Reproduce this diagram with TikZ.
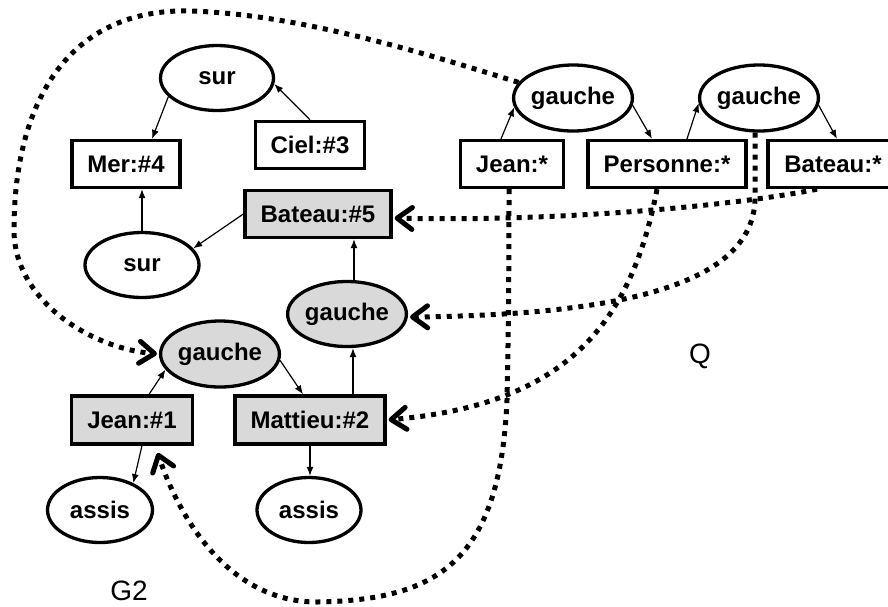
\documentclass[tikz,border=0pt]{standalone}
\usepackage{fontspec}
\setmainfont{Liberation Sans}
\usetikzlibrary{arrows.meta,shapes.geometric}
\tikzset{
  lbl/.style={font=\bfseries\fontsize{24}{28}\selectfont, inner sep=0pt, line width=3.3pt, draw=black},
  relnode/.style={lbl, ellipse, minimum width=113pt, minimum height=65pt},
  conbox/.style={lbl, rectangle, minimum height=47pt},
  hit/.style={fill=gray!30},
  thin/.style={line width=1.2pt, -{Latex[length=9pt,width=7pt]}},
  proj/.style={line width=5pt, dash pattern=on 5pt off 6pt,
    -{Straight Barb[length=15pt,width=22pt,line width=5pt,round]}, shorten >=2pt},
  tag/.style={font=\fontsize{28}{32}\selectfont, inner sep=0pt}
}
\begin{document}
\begin{tikzpicture}[x=1pt,y=-1pt]
\useasboundingbox (0,0) rectangle (888,606);
% G2
\node[relnode] (s1) at (217,78) {sur};
\node[conbox, minimum width=108pt] (mer) at (126,164) {Mer:\#4};
\node[conbox, minimum width=109pt] (ciel) at (310,145) {Ciel:\#3};
\node[conbox, hit, minimum width=146pt] (b5) at (318,214) {Bateau:\#5};
\node[relnode, minimum width=114pt] (s2) at (142,265) {sur};
\node[relnode, hit, minimum width=114pt] (gm) at (347,314) {gauche};
\node[relnode, hit, minimum height=66pt] (gl) at (220,354) {gauche};
\node[conbox, hit, minimum width=121pt, minimum height=48pt] (j1) at (132,420) {Jean:\#1};
\node[conbox, hit, minimum width=150pt, minimum height=48pt] (m2) at (310,420) {Mattieu:\#2};
\node[relnode, minimum width=105pt] (a1) at (100,510) {assis};
\node[relnode, minimum width=104pt] (a2) at (309,510) {assis};
\node[tag] (g2) at (129,591) {G2};
% Q
\node[relnode, minimum height=66pt] (gq1) at (573,98) {gauche};
\node[relnode, minimum height=66pt] (gq2) at (759,98) {gauche};
\node[conbox, minimum width=103pt] (jq) at (512,164) {Jean:*};
\node[conbox, minimum width=158pt] (pq) at (667,164) {Personne:*};
\node[conbox, minimum width=130pt] (bq) at (833,164) {Bateau:*};
\node[tag] (q) at (700,356) {Q};
\coordinate (j1tip) at (157,451);
% thin arrows G2
\draw[thin] (s1.201) -- ([xshift=26pt]mer.north);
\draw[thin] (ciel.north) -- (s1.354);
\draw[thin] (s2.north) -- (s2.north |- mer.south);
\draw[thin] (b5.west) -- (s2.18);
\draw[thin] ([xshift=7pt]gm.north) -- ([xshift=7pt]gm.north |- b5.south);
\draw[thin] ([xshift=43pt]m2.north) -- ([xshift=43pt]m2.north |- gm.south);
\draw[thin] ([xshift=17pt]j1.north) -- (gl.196);
\draw[thin] (gl.354) -- ([xshift=-7pt]m2.north);
\draw[thin] ([xshift=10pt]j1.south) -- (a1.39);
\draw[thin] (m2.south) -- (m2.south |- a2.north);
% thin arrows Q
\draw[thin] ([xshift=-11pt]jq.north) -- (gq1.189);
\draw[thin] (gq1.353) -- ([xshift=-15pt]pq.north);
\draw[thin] ([xshift=20pt]pq.north) -- (gq2.185);
\draw[thin] (gq2.353) -- ([xshift=4pt]bq.north);
% projection
\draw[proj] (gq1.164) .. controls (430,55) and (300,14) .. (190,11)
  .. controls (70,8) and (14,100) .. (14,230)
  .. controls (14,300) and (90,348) .. (gl.west);
\draw[proj] ([xshift=-16pt]bq.south) .. controls (740,205) and (560,222) .. ([yshift=-4pt]b5.east);
\draw[proj] ([xshift=-4pt]gq2.south) -- (755,200) .. controls (752,285) and (620,315) .. ([yshift=-3pt]gm.east);
\draw[proj] ([xshift=-10pt]pq.south) .. controls (630,330) and (560,405) .. (m2.east);
\draw[proj] ([xshift=-3pt]jq.south) .. controls (509,300) and (508,350) .. (507,400)
  .. controls (500,560) and (440,600) .. (317,602)
  .. controls (230,602) and (180,520) .. (j1tip);
\end{tikzpicture}
\end{document}
